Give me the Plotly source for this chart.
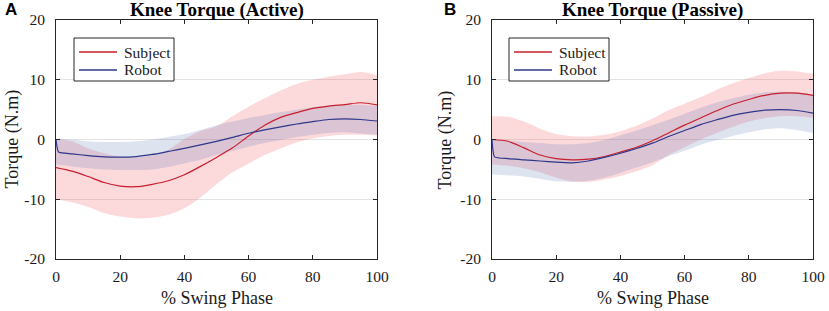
import plotly.graph_objects as go

W, H = 829, 311

# ---------------- data ----------------
x_pts = [0, 5, 10, 15, 20, 25, 30, 35, 40, 45, 50, 55, 60, 65, 70, 75, 80, 85, 90, 95, 100]
x_robot = [0, 0.8, 5, 10, 15, 20, 25, 30, 35, 40, 45, 50, 55, 60, 65, 70, 75, 80, 85, 90, 95, 100]

# Active
subj_act_mean = [-4.7, -5.3, -6.2, -7.2, -7.8, -7.9, -7.5, -6.9, -5.9, -4.5, -3.0, -1.4, 0.6, 2.4, 3.7, 4.5, 5.2, 5.6, 5.85, 6.15, 5.8]
subj_act_upper = [0.1, -0.3, -1.5, -2.3, -2.9, -3.0, -2.6, -1.7, 0.1, 1.4, 2.2, 3.9, 5.5, 6.9, 8.2, 9.3, 10.0, 10.5, 10.9, 11.3, 10.8]
subj_act_lower = [-10.0, -10.5, -11.3, -12.3, -12.9, -13.2, -13.1, -12.6, -11.5, -9.7, -7.5, -5.5, -4.0, -2.6, -1.5, -0.5, 0.2, 0.6, 0.8, 0.8, 0.7]
rob_act_mean = [0.0, -2.1, -2.4, -2.7, -2.9, -2.95, -2.85, -2.5, -2.0, -1.5, -0.9, -0.3, 0.35, 1.05, 1.6, 2.1, 2.6, 3.0, 3.35, 3.45, 3.35, 3.1]
rob_act_upper = [0.1, 0.0, -0.3, -0.4, -0.4, -0.3, 0.0, 0.4, 0.9, 1.6, 2.4, 3.0, 3.6, 4.1, 4.6, 5.0, 5.4, 5.7, 5.8, 5.8, 5.6]
rob_act_lower = [-4.2, -4.5, -4.8, -5.0, -5.1, -5.1, -5.0, -4.6, -4.0, -3.4, -2.6, -1.9, -1.2, -0.6, -0.1, 0.4, 0.8, 1.1, 1.2, 1.0, 0.8]

# Passive
subj_pas_mean = [0.0, -0.3, -1.4, -2.6, -3.2, -3.4, -3.3, -2.85, -2.1, -1.3, -0.2, 1.1, 2.4, 3.6, 4.8, 5.9, 6.7, 7.4, 7.75, 7.75, 7.4]
subj_pas_upper = [3.9, 3.8, 3.0, 1.8, 0.9, 0.55, 0.5, 0.8, 1.4, 2.3, 3.5, 4.9, 6.0, 7.1, 8.3, 9.4, 10.3, 11.1, 11.5, 11.4, 11.0]
subj_pas_lower = [-4.2, -4.4, -4.8, -5.5, -6.4, -7.0, -7.1, -6.7, -6.1, -5.3, -4.3, -2.6, -1.3, 0.0, 1.1, 2.1, 3.0, 3.6, 3.9, 3.9, 3.6]
rob_pas_mean = [0.0, -2.9, -3.2, -3.4, -3.6, -3.8, -3.9, -3.6, -3.0, -2.3, -1.5, -0.6, 0.5, 1.5, 2.5, 3.3, 4.05, 4.55, 4.9, 5.0, 4.85, 4.4]
rob_pas_upper = [0.0, -0.2, -0.4, -0.6, -0.8, -0.8, -0.6, -0.1, 0.7, 1.5, 2.4, 3.3, 4.3, 5.3, 6.2, 6.9, 7.5, 7.9, 8.0, 7.9, 7.5]
rob_pas_lower = [-5.8, -6.0, -6.2, -6.6, -7.0, -7.1, -6.9, -6.4, -5.6, -4.7, -3.8, -2.8, -1.9, -0.9, -0.1, 0.6, 1.2, 1.7, 1.9, 1.6, 1.1]

titles = ["Knee Torque (Active)", "Knee Torque (Passive)"]
panel_labels = ["A", "B"]
x_title = "% Swing Phase"
y_title = "Torque (N.m)"
series_names = ["Subject", "Robot"]
x_ticks = [0, 20, 40, 60, 80, 100]
y_ticks = [-20, -10, 0, 10, 20]
y_ticktext = ["-20", "-10", "0", "10", "20"]

# ---------------- style ----------------
RED = "rgb(200,30,45)"
BLUE = "rgb(45,55,140)"
RED_FILL = "rgba(240,80,90,0.21)"
BLUE_FILL = "rgba(70,100,170,0.18)"
AX = "#262626"
SERIF = "Liberation Serif, Times New Roman, serif"

fig = go.Figure()

panels = [
    (subj_act_mean, subj_act_upper, subj_act_lower, rob_act_mean, rob_act_upper, rob_act_lower, "x", "y"),
    (subj_pas_mean, subj_pas_upper, subj_pas_lower, rob_pas_mean, rob_pas_upper, rob_pas_lower, "x2", "y2"),
]

for sm, su, sl, rm, ru, rl, xa, ya in panels:
    fig.add_trace(go.Scatter(x=x_pts, y=sl, xaxis=xa, yaxis=ya, mode="lines",
                             line=dict(width=0, shape="spline", smoothing=0.8),
                             showlegend=False, hoverinfo="skip"))
    fig.add_trace(go.Scatter(x=x_pts, y=su, xaxis=xa, yaxis=ya, mode="lines",
                             line=dict(width=0, shape="spline", smoothing=0.8),
                             fill="tonexty", fillcolor=RED_FILL,
                             showlegend=False, hoverinfo="skip"))
    fig.add_trace(go.Scatter(x=x_pts, y=rl, xaxis=xa, yaxis=ya, mode="lines",
                             line=dict(width=0, shape="spline", smoothing=0.8),
                             showlegend=False, hoverinfo="skip"))
    fig.add_trace(go.Scatter(x=x_pts, y=ru, xaxis=xa, yaxis=ya, mode="lines",
                             line=dict(width=0, shape="spline", smoothing=0.8),
                             fill="tonexty", fillcolor=BLUE_FILL,
                             showlegend=False, hoverinfo="skip"))
    fig.add_trace(go.Scatter(x=x_pts, y=sm, xaxis=xa, yaxis=ya, mode="lines",
                             name=series_names[0], showlegend=False,
                             line=dict(color=RED, width=1.2, shape="spline", smoothing=0.8)))
    fig.add_trace(go.Scatter(x=x_robot, y=rm, xaxis=xa, yaxis=ya, mode="lines",
                             name=series_names[1], showlegend=False,
                             line=dict(color=BLUE, width=1.2, shape="spline", smoothing=0.5)))

ydom = [1 - 259 / H, 1 - 20 / H]
xdoms = [[56 / W, 377 / W], [492 / W, 813 / W]]

tickfont = dict(family=SERIF, size=15.5, color="#1a1a1a")

for i, xd in enumerate(xdoms):
    sfx = "" if i == 0 else str(i + 1)
    fig.update_layout({
        "xaxis" + sfx: dict(domain=xd, range=[0, 100], tickvals=x_ticks, showgrid=False,
                            anchor="y" + sfx, ticklabelstandoff=3,
                            showline=True, linecolor=AX, linewidth=1, mirror="ticks",
                            ticks="inside", ticklen=4, tickcolor=AX, tickwidth=1,
                            tickfont=tickfont, zeroline=False, automargin=False),
        "yaxis" + sfx: dict(domain=ydom, range=[-20, 20], tickvals=y_ticks,
                            ticktext=y_ticktext, showgrid=True,
                            gridcolor="#e3e3e3", gridwidth=1,
                            anchor="x" + sfx, ticklabelstandoff=7,
                            showline=True, linecolor=AX, linewidth=1, mirror="ticks",
                            ticks="inside", ticklen=4, tickcolor=AX, tickwidth=1,
                            tickfont=tickfont, zeroline=False, automargin=False),
    })

# ---- legends (box, line samples, labels) in pixel positions ----
shapes = []
ann = []
legend_left = [74, 509]
for i in range(2):
    L = legend_left[i]
    shapes.append(dict(type="rect", xref="paper", yref="paper",
                       x0=L / W, x1=(L + 100) / W, y0=1 - 81 / H, y1=1 - 38 / H,
                       line=dict(color=AX, width=1), fillcolor="white", layer="above"))
    for j, (nm, col, yy) in enumerate([(series_names[0], RED, 52), (series_names[1], BLUE, 70)]):
        shapes.append(dict(type="line", xref="paper", yref="paper",
                           x0=(L + 5) / W, x1=(L + 43) / W, y0=1 - yy / H, y1=1 - yy / H,
                           line=dict(color=col, width=1.5), layer="above"))
        ann.append(dict(text=nm, x=(L + 48) / W, y=1 - yy / H, xref="paper", yref="paper",
                        showarrow=False, xanchor="left", yanchor="middle",
                        font=dict(family=SERIF, size=15.5, color="#1a1a1a")))

centers = [(56 + 377) / 2, (492 + 813) / 2]
ylab_x = [12, 445]
lab_x = [11, 450]
for i in range(2):
    ann.append(dict(text="<b>" + titles[i] + "</b>", x=centers[i] / W, y=1 - 10 / H,
                    xref="paper", yref="paper", showarrow=False,
                    xanchor="center", yanchor="middle",
                    font=dict(family=SERIF, size=19, color="black")))
    ann.append(dict(text="<b>" + panel_labels[i] + "</b>", x=lab_x[i] / W, y=1 - 9 / H,
                    xref="paper", yref="paper", showarrow=False,
                    xanchor="center", yanchor="middle",
                    font=dict(family="Liberation Sans, Arial, sans-serif", size=17, color="black")))
    ann.append(dict(text=x_title, x=centers[i] / W, y=1 - 298 / H,
                    xref="paper", yref="paper", showarrow=False,
                    xanchor="center", yanchor="middle",
                    font=dict(family=SERIF, size=18, color="#1a1a1a")))
    ann.append(dict(text=y_title, x=ylab_x[i] / W, y=1 - 139.5 / H,
                    xref="paper", yref="paper", showarrow=False, textangle=-90,
                    xanchor="center", yanchor="middle",
                    font=dict(family=SERIF, size=18, color="#1a1a1a")))

fig.update_layout(template="none", width=W, height=H, showlegend=False,
                  font=dict(family=SERIF, size=15, color="#1a1a1a"),
                  margin=dict(l=0, r=0, t=0, b=0, autoexpand=False),
                  paper_bgcolor="white", plot_bgcolor="white",
                  annotations=ann, shapes=shapes)

fig.write_html("out.html", config={"displayModeBar": False, "staticPlot": True},
               post_script="document.body.style.margin='0';document.body.style.padding='0';")
